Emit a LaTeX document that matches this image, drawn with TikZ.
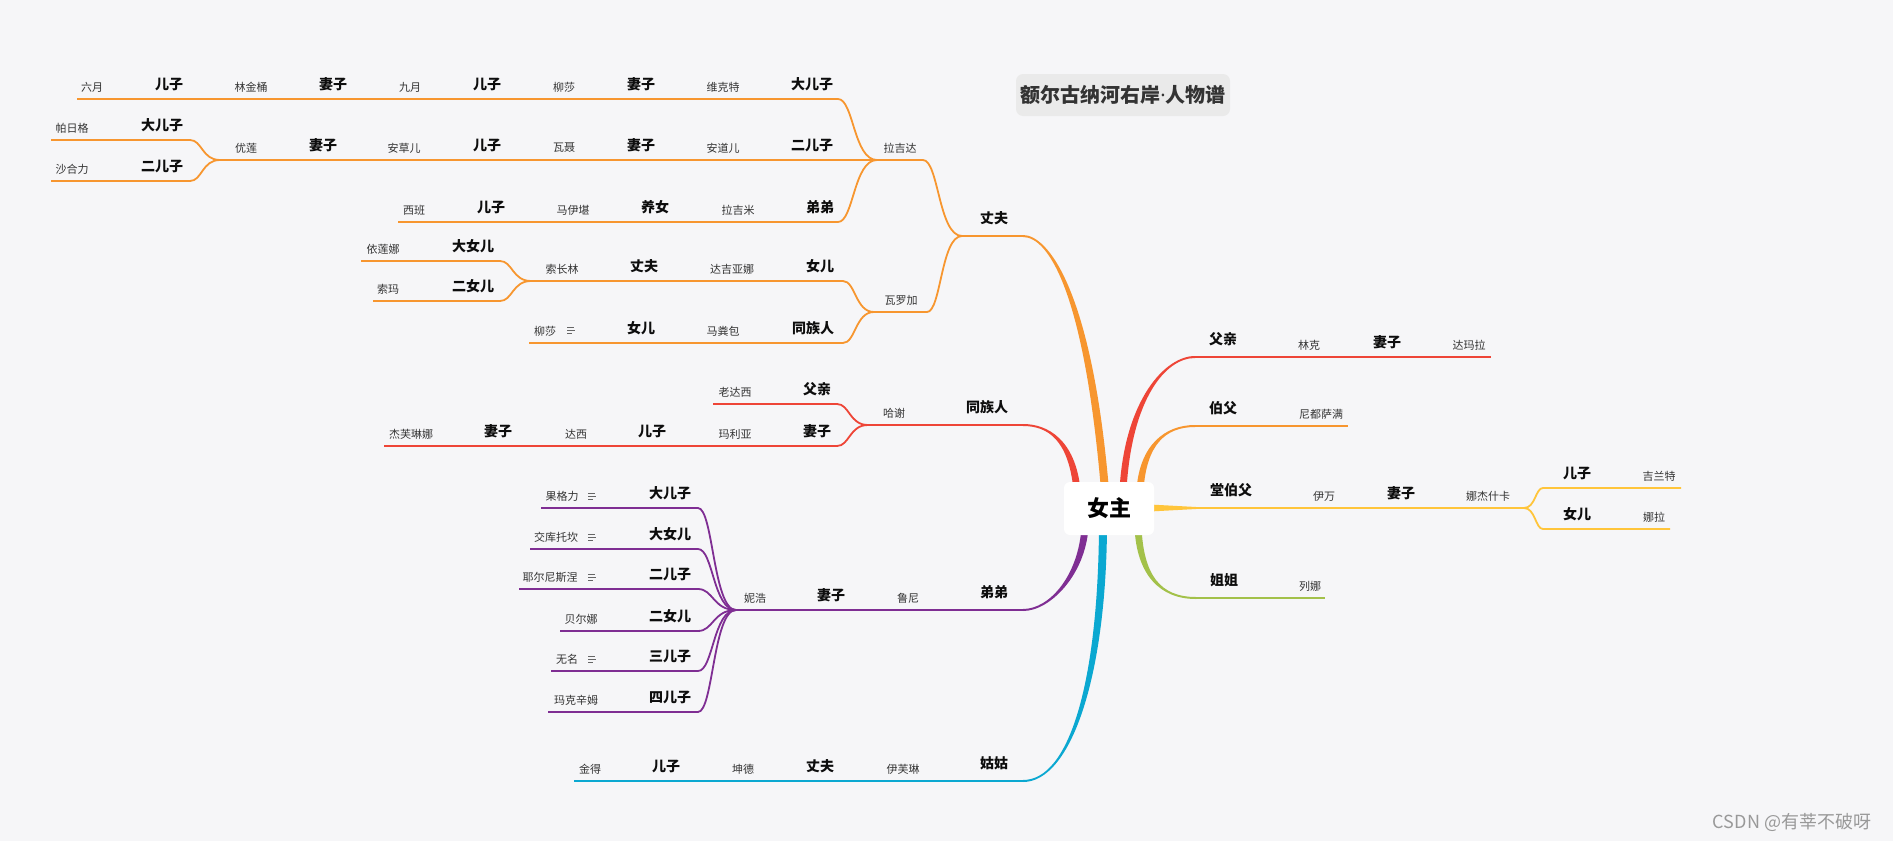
\documentclass[tikz,border=0pt]{standalone}
\usepackage{fontspec}
\setmainfont{Noto Sans CJK SC}
\newfontfamily\latinf{Noto Sans}
\usetikzlibrary{calc}

\definecolor{bg}{HTML}{F6F6F8}
\definecolor{ttl}{HTML}{EAEAEA}
\definecolor{cOr}{HTML}{F7962F}
\definecolor{cRd}{HTML}{EE4537}
\definecolor{cPu}{HTML}{7F2E93}
\definecolor{cCy}{HTML}{0BA8D1}
\definecolor{cYe}{HTML}{FFC53B}
\definecolor{cGr}{HTML}{A3C14A}

\tikzset{
  nm/.style={font=\fontsize{11}{13}\selectfont, text=black!80, inner sep=0pt, yshift=12pt},
  bd/.style={font=\fontsize{14}{16}\selectfont\bfseries, text=black!95, inner sep=0pt, yshift=15pt},
  t1/.style={font=\fontsize{14}{16}\selectfont\bfseries, text=black!95, inner sep=0pt, yshift=17.5pt},
  ln/.style={line width=1.8pt},
  lk/.style={to path={.. controls ($(\tikztostart)!0.6!(\tikztostart-|\tikztotarget)$) and ($(\tikztotarget)!0.4!(\tikztotarget-|\tikztostart)$) .. (\tikztotarget)}},
  memo/.pic={\draw[black!60, line width=0.9pt] (-4,-3) -- (3,-3) (-4,0) -- (4,0) (-4,3) -- (1,3);},
}
% tapered main branch: colour, thin end, control 1, control 2, thick end, half width
\newcommand\trunk[6]{\fill[#1] ($(#2)+(0,-1)$) .. controls ($(#3)+(0,-1)$) and ($(#4)+(#6)$) .. ($(#5)+(#6)$) -- ($(#5)-(#6)$) .. controls ($(#4)-(#6)$) and ($(#3)+(0,1)$) .. ($(#2)+(0,1)$) -- cycle;}

\begin{document}
\begin{tikzpicture}[x=1pt, y=-1pt]
\fill[bg] (0,0) rectangle (1893,841);
\useasboundingbox (0,0) rectangle (1893,841);

% junctions and line ends
\coordinate (zf) at (962,236);   \coordinate (zfR) at (1023,236);
\coordinate (ljdL) at (877,160); \coordinate (ljdR) at (923,160);
\coordinate (wlgL) at (874,312); \coordinate (wlgR) at (927,312);
\coordinate (r1) at (838,99);  \coordinate (r1s) at (77,99);
\coordinate (r2) at (838,160); \coordinate (r2s) at (220,160);
\coordinate (r3) at (838,222); \coordinate (r3s) at (398,222);
\coordinate (prg) at (190,140); \coordinate (prgs) at (51,140);
\coordinate (shl) at (190,181); \coordinate (shls) at (51,181);
\coordinate (ne) at (843,281); \coordinate (nes) at (531,281);
\coordinate (tz) at (843,343); \coordinate (tzs) at (529,343);
\coordinate (yln) at (500,261); \coordinate (ylns) at (361,261);
\coordinate (sm) at (500,301); \coordinate (sms) at (373,301);
\coordinate (hx) at (868,425); \coordinate (tzrR) at (1023,425);
\coordinate (fq) at (837,404); \coordinate (fqs) at (713,404);
\coordinate (qz) at (837,446); \coordinate (qzs) at (384,446);
\coordinate (nh) at (736,610); \coordinate (ddR) at (1023,610);
\coordinate (ggs) at (574,781); \coordinate (ggR) at (1023,781);
\coordinate (fqR) at (1195,357); \coordinate (fqE) at (1491,357);
\coordinate (bfR) at (1195,426); \coordinate (bfE) at (1348,426);
\coordinate (tbfR) at (1196,508); \coordinate (njk) at (1524,508);
\coordinate (ez) at (1543,488); \coordinate (ezE) at (1681,488);
\coordinate (ner) at (1543,529); \coordinate (nerE) at (1670,529);
\coordinate (jjR) at (1196,598); \coordinate (jjE) at (1325,598);

% main branches
\trunk{cOr}{zfR}{1048,236}{1088,290}{1105,490}{4,0}
\trunk{cRd}{tzrR}{1048,425}{1072,440}{1077,490}{3.5,0}
\trunk{cPu}{ddR}{1050,610}{1082,575}{1085,527}{-3.5,0}
\trunk{cCy}{ggR}{1070,781}{1102,680}{1103,527}{-4,0}
\trunk{cRd}{fqR}{1165,357}{1128,400}{1123,490}{-3.5,0}
\trunk{cOr}{bfR}{1165,426}{1143,445}{1140,490}{-3.5,0}
\trunk{cGr}{jjR}{1160,598}{1140,575}{1138,527}{3.5,0}
\fill[cYe] ($(tbfR)+(0,-1)$) -- ++(-46,-2.5) -- ++(0,7) -- ($(tbfR)+(0,1)$) -- cycle;

% 丈夫
\draw[ln,cOr] (zf) -- (zfR);
\draw[ln,cOr] (zf) to[lk] (ljdR) -- (ljdL);
\draw[ln,cOr] (zf) to[lk] (wlgR) -- (wlgL);
\draw[ln,cOr] (ljdL) to[lk] (r1) -- (r1s);
\draw[ln,cOr] (ljdL) to[lk] (r2) -- (r2s);
\draw[ln,cOr] (ljdL) to[lk] (r3) -- (r3s);
\draw[ln,cOr] (r2s) to[lk] (prg) -- (prgs);
\draw[ln,cOr] (r2s) to[lk] (shl) -- (shls);
\draw[ln,cOr] (wlgL) to[lk] (ne) -- (nes);
\draw[ln,cOr] (wlgL) to[lk] (tz) -- (tzs);
\draw[ln,cOr] (nes) to[lk] (yln) -- (ylns);
\draw[ln,cOr] (nes) to[lk] (sm) -- (sms);
% 同族人
\draw[ln,cRd] (tzrR) -- (hx);
\draw[ln,cRd] (hx) to[lk] (fq) -- (fqs);
\draw[ln,cRd] (hx) to[lk] (qz) -- (qzs);
% 弟弟
\draw[ln,cPu] (ddR) -- (nh);
\foreach \ky/\kx in {508/541, 549/530, 589/519, 631/560, 671/551, 712/548} {
  \coordinate (k\ky) at (698,\ky);
  \coordinate (ks\ky) at (\kx,\ky);
  \draw[ln,cPu] (nh) to[lk] (k\ky) -- (ks\ky);
}
% 姑姑
\draw[ln,cCy] (ggR) -- (ggs);
% right side
\draw[ln,cRd] (fqR) -- (fqE);
\draw[ln,cOr] (bfR) -- (bfE);
\draw[ln,cYe] (tbfR) -- (njk);
\draw[ln,cYe] (njk) to[lk] (ez) -- (ezE);
\draw[ln,cYe] (njk) to[lk] (ner) -- (nerE);
\draw[ln,cGr] (jjR) -- (jjE);

% center and title
\node[fill=white, rounded corners=6pt, minimum width=90pt, minimum height=53pt, inner sep=0pt, font=\fontsize{22}{24}\selectfont\bfseries] (nz) at (1109,508.5) {女主};
\node[fill=ttl, rounded corners=7pt, minimum width=214pt, minimum height=42pt, inner sep=0pt, text=black!80, font=\fontsize{20}{22}\selectfont\bfseries] (title) at (1123,95) {额尔古纳河右岸{\latinf\bfseries ·}人物谱};

% labels, 丈夫 side
\node[t1] (zfT) at (994,236) {丈夫};
\node[nm] (ljd) at (900,160) {拉吉达};
\node[nm] (wlg) at (901,312) {瓦罗加};
\foreach \st/\px/\tx in {nm/92/六月, bd/169/儿子, nm/251/林金桶, bd/333/妻子, nm/410/九月, bd/487/儿子, nm/564/柳莎, bd/641/妻子, nm/723/维克特, bd/812/大儿子}
  \node[\st] (a\px) at (\px,99) {\tx};
\foreach \st/\px/\tx in {nm/246/优莲, bd/323/妻子, nm/404/安草儿, bd/487/儿子, nm/564/瓦聂, bd/641/妻子, nm/723/安道儿, bd/812/二儿子}
  \node[\st] (b\px) at (\px,160) {\tx};
\node[nm] (prgT) at (72,140) {帕日格};
\node[bd] (prgK) at (162,140) {大儿子};
\node[nm] (shlT) at (72,181) {沙合力};
\node[bd] (shlK) at (162,181) {二儿子};
\foreach \st/\px/\tx in {nm/414/西班, bd/491/儿子, nm/573/马伊堪, bd/655/养女, nm/738/拉吉米, bd/820/弟弟}
  \node[\st] (c\px) at (\px,222) {\tx};
\foreach \st/\px/\tx in {nm/562/索长林, bd/644/丈夫, nm/732/达吉亚娜, bd/820/女儿}
  \node[\st] (d\px) at (\px,281) {\tx};
\node[nm] (ylnT) at (383,261) {依莲娜};
\node[bd] (ylnK) at (473,261) {大女儿};
\node[nm] (smT) at (388,301) {索玛};
\node[bd] (smK) at (473,301) {二女儿};
\foreach \st/\px/\tx in {nm/545/柳莎, bd/641/女儿, nm/723/马粪包, bd/813/同族人}
  \node[\st] (e\px) at (\px,343) {\tx};
\pic at (571,330) {memo};

% labels, 同族人
\node[t1] (tzrT) at (987,425) {同族人};
\node[nm] (hxT) at (894,425) {哈谢};
\node[nm] (fqT) at (735,404) {老达西};
\node[bd] (fqK) at (817,404) {父亲};
\foreach \st/\px/\tx in {nm/411/杰芙琳娜, bd/498/妻子, nm/576/达西, bd/652/儿子, nm/735/玛利亚, bd/817/妻子}
  \node[\st] (f\px) at (\px,446) {\tx};

% labels, 弟弟
\foreach \st/\px/\tx in {t1/994/弟弟, nm/908/鲁尼, bd/831/妻子, nm/755/妮浩}
  \node[\st] (g\px) at (\px,610) {\tx};
\foreach \ky/\nx/\nt/\bt in {508/562/果格力/大儿子, 549/556/交库托坎/大女儿, 589/550/耶尔尼斯涅/二儿子, 631/581/贝尔娜/二女儿, 671/567/无名/三儿子, 712/576/玛克辛姆/四儿子} {
  \node[nm] (kn\ky) at (\nx,\ky) {\nt};
  \node[bd] (kb\ky) at (670,\ky) {\bt};
}
\foreach \ky in {508,549,589,671}
  \pic at (592,\ky-12) {memo};

% labels, 姑姑
\foreach \st/\px/\tx in {t1/994/姑姑, nm/903/伊芙琳, bd/820/丈夫, nm/743/坤德, bd/666/儿子, nm/590/金得}
  \node[\st] (h\px) at (\px,781) {\tx};

% labels, right side
\foreach \st/\px/\tx in {t1/1223/父亲, nm/1309/林克, bd/1387/妻子, nm/1469/达玛拉}
  \node[\st] (p\px) at (\px,357) {\tx};
\node[t1] (bfT) at (1223,426) {伯父};
\node[nm] (bfK) at (1321,426) {尼都萨满};
\foreach \st/\px/\tx in {t1/1231/堂伯父, nm/1324/伊万, bd/1401/妻子, nm/1488/娜杰什卡}
  \node[\st] (q\px) at (\px,508) {\tx};
\node[bd] (ezT) at (1577,488) {儿子};
\node[nm] (ezK) at (1659,488) {吉兰特};
\node[bd] (nerT) at (1577,529) {女儿};
\node[nm] (nerK) at (1654,529) {娜拉};
\node[t1] (jjT) at (1224,598) {姐姐};
\node[nm] (jjK) at (1310,598) {列娜};

\node[text=black!40, font=\fontsize{18}{20}\selectfont] (wm) at (1792,822) {CSDN @有莘不破呀};
\end{tikzpicture}
\end{document}
